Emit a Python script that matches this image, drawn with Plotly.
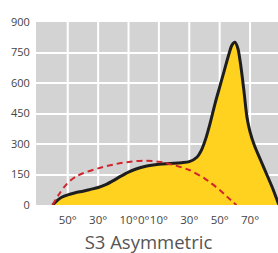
import plotly.graph_objects as go

# Data
x_black = [-60, -57, -54, -50, -45, -40, -35, -30, -25, -20, -15, -10, -5, 0, 5, 10, 15, 20, 25, 30, 35, 38, 41, 44, 47, 50, 53, 56, 58, 60, 62, 64, 66, 68, 70, 73, 77, 81, 85, 89]
y_black = [0, 22, 38, 50, 60, 68, 77, 86, 100, 120, 142, 162, 177, 188, 195, 200, 203, 205, 208, 213, 235, 270, 330, 410, 500, 580, 660, 740, 785, 800, 770, 680, 560, 430, 360, 290, 220, 150, 80, 0]

x_red = [-60, -56, -52, -48, -44, -40, -30, -20, -10, 0, 10, 20, 30, 40, 50, 55, 61]
y_red = [0, 50, 92, 122, 142, 156, 180, 199, 212, 218, 213, 196, 172, 131, 74, 40, 0]

grid_x = [-50, -30, -10, 10, 30, 50, 70]
tick_vals = [-50, -30, -10, 0, 10, 30, 50, 70]
tick_text = ["50°", "30°", "10°", "0°", "10°", "30°", "50°", "70°"]
y_ticks = [0, 150, 300, 450, 600, 750, 900]
title_text = "S3 Asymmetric"

fig = go.Figure()
fig.add_trace(go.Scatter(
    x=x_black, y=y_black, mode="lines",
    line=dict(color="#1e1e1e", width=3, shape="spline", smoothing=0.7),
    fill="tozeroy", fillcolor="#FFD21F", hoverinfo="skip"))
fig.add_trace(go.Scatter(
    x=x_red, y=y_red, mode="lines",
    line=dict(color="#D0262B", width=2, dash="6px,4px", shape="spline", smoothing=0.8),
    hoverinfo="skip"))

for gx in grid_x:
    fig.add_shape(type="line", x0=gx, x1=gx, y0=0, y1=1, xref="x", yref="paper",
                  line=dict(color="white", width=2), layer="below")

fig.update_layout(
    width=278, height=253,
    margin=dict(l=36, r=0, t=22, b=48),
    plot_bgcolor="#D3D3D3", paper_bgcolor="white",
    showlegend=False,
    font=dict(family="Open Sans", color="#444444", size=11),
    title=dict(text=title_text, x=0.534, xanchor="center", xref="container",
               y=0.04, yref="container", yanchor="middle", automargin=False,
               font=dict(family="Open Sans", size=18.5, color="#555555")),
    xaxis=dict(range=[-70.9, 88.4], tickvals=tick_vals, ticktext=tick_text,
               showgrid=False, zeroline=False, showline=False, tickangle=0,
               automargin=False,
               ticks="outside", ticklen=4, tickcolor="rgba(0,0,0,0)",
               tickfont=dict(family="Liberation Sans Narrow, Open Sans", size=11.5, color="#444444"),
               fixedrange=True),
    yaxis=dict(range=[0, 900], tickvals=y_ticks, showgrid=True, gridcolor="white",
               gridwidth=2, zeroline=False, showline=False, automargin=False,
               ticks="outside", ticklen=3, tickcolor="rgba(0,0,0,0)",
               tickfont=dict(size=11, color="#444444"), fixedrange=True),
)

fig.write_html("out.html", config={"displayModeBar": False},
               post_script="document.body.style.margin='0';document.body.style.overflow='hidden';")
